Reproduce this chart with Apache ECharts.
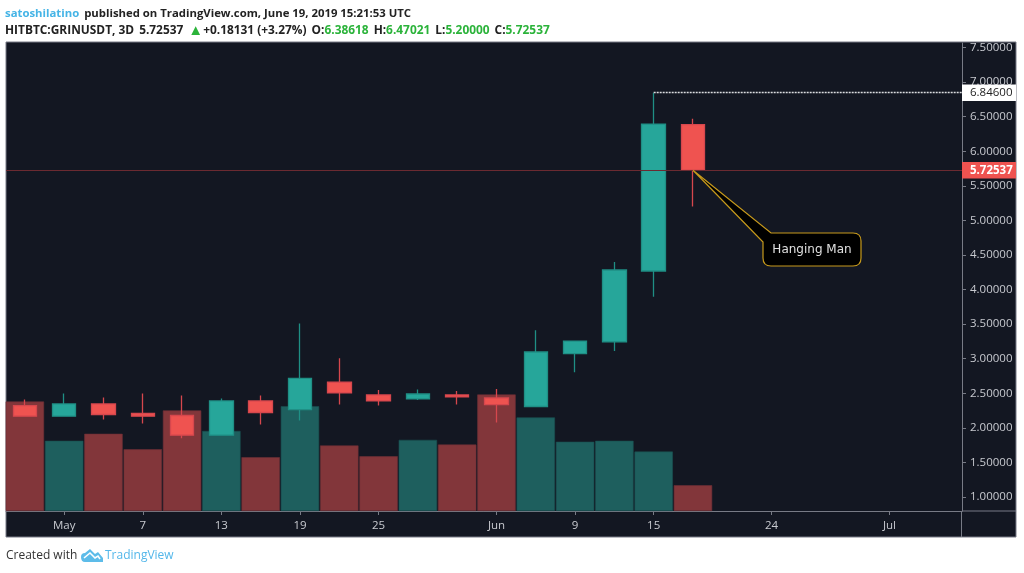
<!DOCTYPE html>
<html><head><meta charset="utf-8">
<style>html,body{margin:0;padding:0;background:#fff}#c{width:1024px;height:573px}</style>
<script src="https://cdn.jsdelivr.net/npm/echarts@6/dist/echarts.min.js"></script>
</head><body><div id="c"></div>
<script>
const opens  = [2.323,2.169,2.346,2.208,2.179,1.895,2.390,2.265,2.660,2.476,2.418,2.476,2.433,2.309,3.073,3.245,4.268,6.38618];
const closes = [2.169,2.346,2.193,2.169,1.895,2.390,2.222,2.717,2.505,2.390,2.490,2.447,2.337,3.097,3.255,4.283,6.392,5.72537];
const lows   = [2.169,2.169,2.120,2.063,1.851,1.895,2.049,2.107,2.337,2.323,2.404,2.337,2.078,2.309,2.804,3.111,3.897,5.20000];
const highs  = [2.410,2.496,2.440,2.496,2.467,2.424,2.467,3.510,3.006,2.548,2.554,2.534,2.563,3.410,3.255,4.398,6.84600,6.47021];
const volumes= [23.4,15.0,16.5,13.2,21.5,17.1,11.5,22.4,14.0,11.7,15.2,14.2,24.9,20.0,14.8,15.0,12.7,5.5];
const priceTicks = [1,1.5,2,2.5,3,3.5,4,4.5,5,5.5,6,6.5,7,7.5];
const xTickIdx = [1,3,5,7,9,12,14,16,19,22];
const xTickLabels = ['May','7','13','19','25','Jun','9','15','24','Jul'];
const lastPrice = 5.72537, highPrice = 6.846;

const UP='#26a69a', DOWN='#ef5350', VUP='#1e5f5e', VDOWN='#82363a', GRID='#787b86', BG='#131722', TXT='#c8cad0';
const F='"Open Sans",sans-serif';
const gridL=6, gridR=962, gridT=43, gridB=511;
const xMin=-0.48, xMax=23.845;

const chart = echarts.init(document.getElementById('c'),null,{renderer:'canvas'});
const H1=11.35, H2=11.9;
const green={color:'#2bb33a',fontSize:H2,fontFamily:F};
const blk={color:'#222',fontSize:H2,fontFamily:F};
const bld={color:'#222',fontSize:H2,fontFamily:F,fontWeight:'bold'};
chart.setOption({
  animation:false,
  backgroundColor:'#fff',
  title:[
    {left:5,top:5,padding:0,text:'{a|satoshilatino} {b|published on TradingView.com, June 19, 2019 15:21:53 UTC}',
     textStyle:{rich:{a:{color:'#45b4e6',fontSize:H1,fontFamily:F},b:{color:'#222',fontSize:H1,fontFamily:F}}}},
    {left:5,top:22,padding:0,text:'{h|HITBTC:GRINUSDT, 3D} {b|5.72537} {t|▲}{b|+0.18131 (+3.27%)} {h|O:}{g|6.38618} {h|H:}{g|6.47021} {h|L:}{g|5.20000} {h|C:}{g|5.72537}',
     textStyle:{rich:{h:bld,b:blk,g:green,t:{color:'#2bb33a',fontSize:15}}}}
  ],
  grid:{left:gridL,top:gridT,width:gridR-gridL,height:gridB-gridT,containLabel:false},
  xAxis:{type:'value',min:xMin,max:xMax,splitLine:{show:false},
    axisLine:{show:true,onZero:false,lineStyle:{color:GRID,width:1}},
    axisTick:{show:true,customValues:xTickIdx,length:4,lineStyle:{color:GRID}},
    axisLabel:{customValues:xTickIdx,margin:9,color:TXT,fontSize:11.5,fontFamily:F,
      formatter:v=>xTickLabels[xTickIdx.indexOf(v)]}},
  yAxis:[
    {type:'value',position:'right',min:0.798,max:7.565,splitLine:{show:false},scale:true,
     axisLine:{show:true,onZero:false,lineStyle:{color:GRID,width:1}},
     axisTick:{show:true,customValues:priceTicks,length:4,lineStyle:{color:GRID}},
     axisLabel:{customValues:priceTicks,margin:8,padding:[2,0,0,0],color:TXT,fontSize:11.5,fontFamily:F,formatter:v=>v.toFixed(5)}},
    {type:'value',show:false,min:0,max:100,splitLine:{show:false}}
  ],
  series:[
    {type:'bar',yAxisIndex:1,barWidth:38.4,z:2,
     data:volumes.map((v,i)=>({value:[i,v],itemStyle:{color:closes[i]>=opens[i]?VUP:VDOWN,
        borderColor:closes[i]>=opens[i]?'#1a4f50':'#6c2f35',borderWidth:0.6}}))},
    {type:'candlestick',z:3,barWidth:24,
     encode:{x:0,y:[1,2,3,4]},
     itemStyle:{color:UP,color0:DOWN,borderColor:'#1f8f85',borderColor0:'#d6474d',borderWidth:1.3},
     data:opens.map((o,i)=>[i,o,closes[i],lows[i],highs[i]]),
     markLine:{silent:true,symbol:'none',animation:false,z:4,
       data:[
        [{coord:[xMin,lastPrice],lineStyle:{color:'#6b2a31',type:'solid',width:1},
          label:{show:true,position:'end',distance:0,formatter:lastPrice.toFixed(5),color:'#fff',fontSize:11.5,fontFamily:F,fontWeight:'bold',
                 backgroundColor:DOWN,padding:[3,3,2,8],width:43,height:11.5,lineHeight:12}},
         {coord:[xMax,lastPrice]}],
        [{coord:[16,highPrice],lineStyle:{color:'#dcdde0',type:[2,1],width:1.3},
          label:{show:true,position:'end',distance:0,formatter:highPrice.toFixed(5),color:'#222',fontSize:11.5,fontFamily:F,
                 backgroundColor:'#fff',padding:[3,3,2,8],width:43,height:11.5,lineHeight:12}},
         {coord:[xMax,highPrice]}]
       ]}}
  ]
});
const tip = chart.convertToPixel({xAxisIndex:0,yAxisIndex:0},[17,lastPrice]);
const bx=763,by=233,bw=98,bh=33,r=8;
const tx=tip[0],ty=tip[1];
echarts.graphic.registerShape('callout',echarts.graphic.extendPath(
  `M${tx} ${ty} L${bx+8} ${by} L${bx+bw-r} ${by} Q${bx+bw} ${by} ${bx+bw} ${by+r} L${bx+bw} ${by+bh-r} Q${bx+bw} ${by+bh} ${bx+bw-r} ${by+bh} L${bx+r} ${by+bh} Q${bx} ${by+bh} ${bx} ${by+bh-r} L${bx} ${by+9} Z`,{}));
echarts.graphic.registerShape('tvlogo',echarts.graphic.extendPath(
  'M81 557 Q81 553 85 553 L90 549 L95 554 L98 552 L103 558 L103 562 L85 562 Q81 562 81 557 Z',{}));
chart.setOption({graphic:[
  {type:'rect',z:-20,silent:true,shape:{x:6,y:42,width:1010,height:495},style:{fill:BG,stroke:GRID,lineWidth:1}},
  {type:'line',z:10,shape:{x1:gridR,y1:gridB,x2:1016,y2:gridB},style:{stroke:GRID,lineWidth:1}},
  {type:'line',z:10,shape:{x1:gridR-0.5,y1:gridB,x2:gridR-0.5,y2:537},style:{stroke:GRID,lineWidth:1}},
  {type:'callout',z:20,silent:true,style:{fill:'#000',stroke:'#c79a1c',lineWidth:1.2}},
  {type:'text',z:21,silent:true,x:bx+bw/2,y:by+bh/2,
   style:{text:'Hanging Man',fill:'#e0e0e0',font:'12px "DejaVu Sans"',textAlign:'center',textVerticalAlign:'middle'}},
  {type:'text',z:5,silent:true,x:6,y:556,
   style:{text:'Created with',fill:'#333',font:'12px "Open Sans"',textVerticalAlign:'middle'}},
  {type:'tvlogo',z:5,silent:true,style:{fill:'#5dbce9'}},
  {type:'polyline',z:6,silent:true,shape:{points:[[84,558],[90,553],[95,558],[98,556],[100,559]]},style:{fill:'none',stroke:'#fff',lineWidth:1.6}},
  {type:'text',z:5,silent:true,x:105,y:556,
   style:{text:'TradingView',fill:'#53b7ea',font:'12px "Open Sans"',textVerticalAlign:'middle'}}
]});
</script></body></html>
